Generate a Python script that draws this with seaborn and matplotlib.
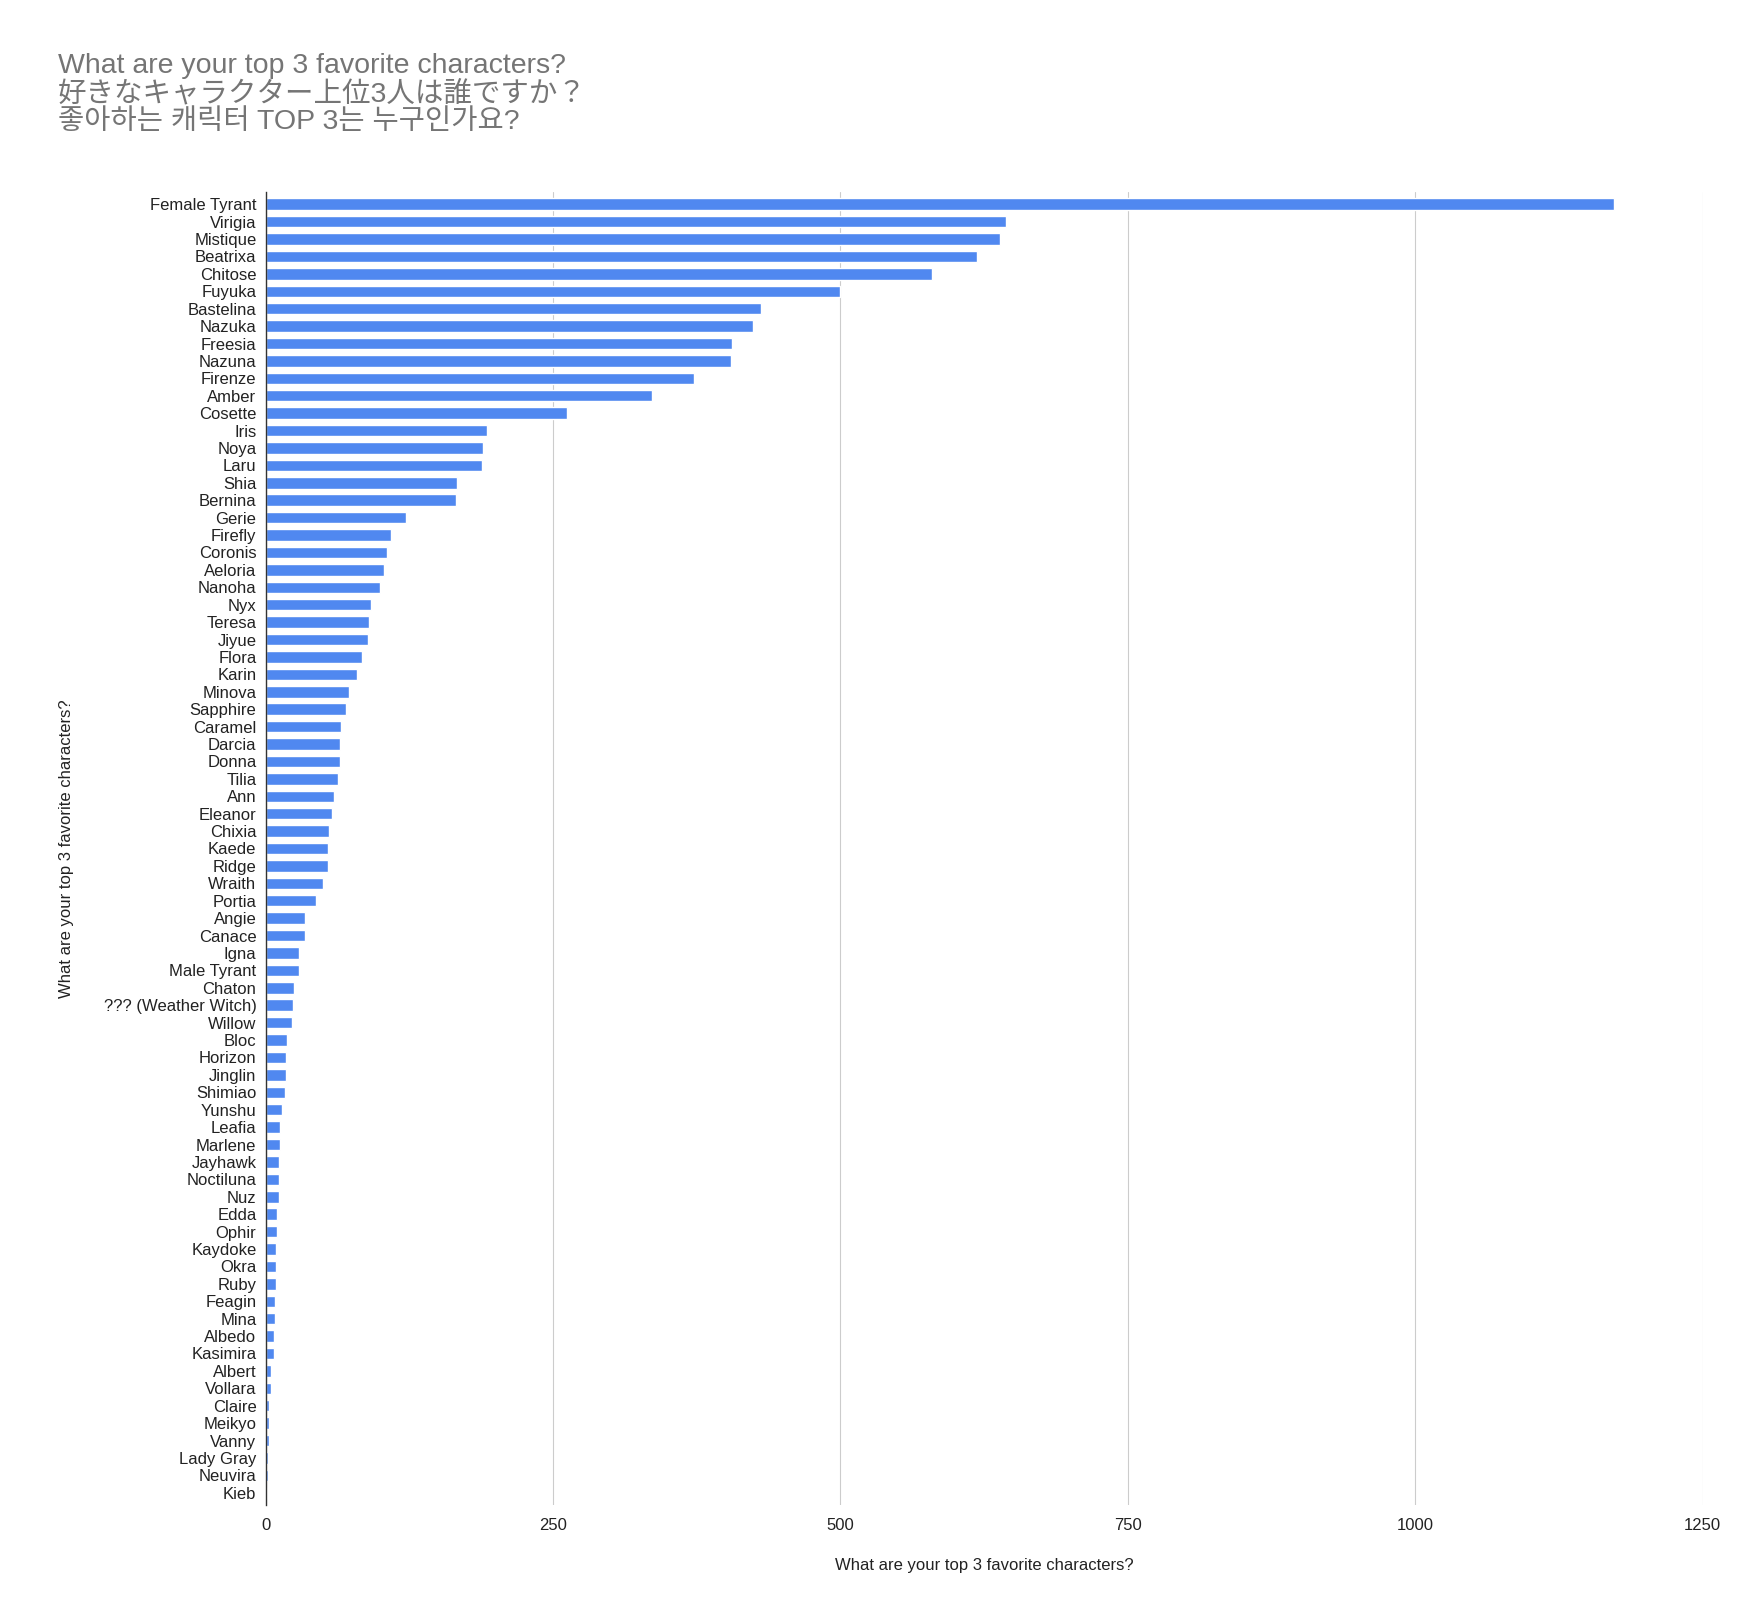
import matplotlib
matplotlib.use("Agg")
import matplotlib.pyplot as plt
import seaborn as sns

# data
characters = [
    "Female Tyrant", "Virigia", "Mistique", "Beatrixa", "Chitose", "Fuyuka",
    "Bastelina", "Nazuka", "Freesia", "Nazuna", "Firenze", "Amber", "Cosette",
    "Iris", "Noya", "Laru", "Shia", "Bernina", "Gerie", "Firefly", "Coronis",
    "Aeloria", "Nanoha", "Nyx", "Teresa", "Jiyue", "Flora", "Karin", "Minova",
    "Sapphire", "Caramel", "Darcia", "Donna", "Tilia", "Ann", "Eleanor",
    "Chixia", "Kaede", "Ridge", "Wraith", "Portia", "Angie", "Canace", "Igna",
    "Male Tyrant", "Chaton", "??? (Weather Witch)", "Willow", "Bloc", "Horizon",
    "Jinglin", "Shimiao", "Yunshu", "Leafia", "Marlene", "Jayhawk", "Noctiluna",
    "Nuz", "Edda", "Ophir", "Kaydoke", "Okra", "Ruby", "Feagin", "Mina",
    "Albedo", "Kasimira", "Albert", "Vollara", "Claire", "Meikyo", "Vanny",
    "Lady Gray", "Neuvira", "Kieb",
]
votes = [
    1173, 644, 639, 619, 580, 500,
    431, 424, 406, 405, 373, 336, 262,
    193, 189, 188, 167, 166, 122, 109, 106,
    103, 100, 92, 90, 89, 84, 80, 73,
    70, 66, 65, 65, 63, 60, 58,
    55, 54, 54, 50, 44, 34, 34, 29,
    29, 25, 24, 23, 19, 18,
    18, 17, 14, 13, 13, 12, 12,
    12, 10, 10, 9, 9, 9, 8, 8,
    7, 7, 5, 5, 3, 3, 3,
    2, 2, 1,
]
x_ticks = [0, 250, 500, 750, 1000, 1250]

title_lines = [
    "What are your top 3 favorite characters?",
    "好きなキャラクター上位3人は誰ですか？",
    "좋아하는 캐릭터 TOP 3는 누구인가요?",
]
axis_title = "What are your top 3 favorite characters?"

BAR_BLUE = "#5088f0"
TEXT_DARK = "#222222"
TITLE_GRAY = "#757575"

sns.set_theme(style="white")
plt.rcParams["font.family"] = ["Liberation Sans", "Noto Sans CJK JP", "DejaVu Sans"]

W, H = 1757, 1609
fig = plt.figure(figsize=(W / 100, H / 100), dpi=100)
ax = fig.add_axes([265.5 / W, 1 - 1505 / H, 1437 / W, 1313 / H])

sns.barplot(x=votes, y=characters, orient="h", color=BAR_BLUE, saturation=1,
            width=0.66, ax=ax, zorder=3)

ax.set_xlim(0, 1250)
ax.set_ylim(len(characters) - 1 + 0.7, -0.7)
ax.set_xticks(x_ticks)
ax.xaxis.grid(True, color="#cccccc", linewidth=0.8, zorder=0)
ax.yaxis.grid(False)
ax.set_axisbelow(True)

for side in ["top", "right", "bottom"]:
    ax.spines[side].set_visible(False)
ax.spines["left"].set_color("#333333")
ax.spines["left"].set_linewidth(1.0)
ax.spines["left"].set_zorder(4)

ax.tick_params(axis="y", length=0, pad=6.5, labelsize=12, labelcolor=TEXT_DARK)
ax.tick_params(axis="x", length=0, pad=9, labelsize=12, labelcolor=TEXT_DARK)

ax.set_xlabel(axis_title, fontsize=12, color=TEXT_DARK)
ax.set_ylabel(axis_title, fontsize=12, color=TEXT_DARK)
ax.xaxis.set_label_coords(0.5, -0.04)
ax.xaxis.label.set_va("top")
ax.yaxis.set_label_coords(-0.133, 0.5)

for text, base in zip(title_lines, [73, 101, 129]):
    fig.text(58 / W, 1 - base / H, text, fontsize=20.5, color=TITLE_GRAY,
             ha="left", va="baseline")

fig.savefig("out.png", dpi=100, facecolor="white")
